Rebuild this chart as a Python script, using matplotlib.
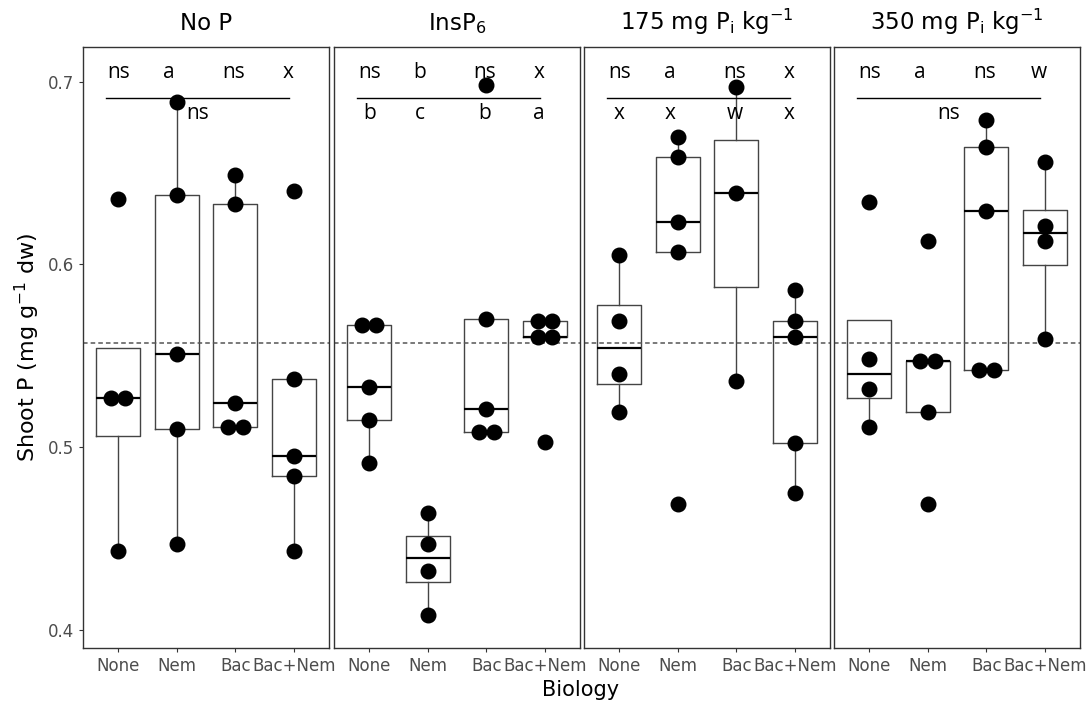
import numpy as np
import matplotlib
matplotlib.use("Agg")
import matplotlib.pyplot as plt

# categories and facet titles
biology = ["None", "Nem", "Bac", "Bac+Nem"]
panels = ["No P", "InsP$_6$", "175 mg P$_\\mathrm{i}$ kg$^{-1}$", "350 mg P$_\\mathrm{i}$ kg$^{-1}$"]

# shoot P values per biology treatment, one list per P treatment
no_p = [[0.443, 0.527, 0.527, 0.636],
        [0.447, 0.510, 0.551, 0.638, 0.689],
        [0.511, 0.511, 0.524, 0.633, 0.649],
        [0.443, 0.484, 0.495, 0.537, 0.640]]
insp6 = [[0.491, 0.515, 0.533, 0.567, 0.567],
         [0.408, 0.432, 0.447, 0.464],
         [0.508, 0.508, 0.521, 0.570, 0.698],
         [0.503, 0.560, 0.560, 0.569, 0.569]]
pi_175 = [[0.519, 0.540, 0.569, 0.605],
          [0.469, 0.607, 0.623, 0.659, 0.670],
          [0.536, 0.639, 0.697],
          [0.475, 0.502, 0.560, 0.569, 0.586]]
pi_350 = [[0.511, 0.532, 0.548, 0.634],
          [0.469, 0.519, 0.547, 0.547, 0.613],
          [0.542, 0.542, 0.629, 0.664, 0.679],
          [0.559, 0.613, 0.621, 0.656]]
all_data = [no_p, insp6, pi_175, pi_350]

# letters above and below the bracket line
top_letters = [["ns", "a", "ns", "x"],
               ["ns", "b", "ns", "x"],
               ["ns", "a", "ns", "x"],
               ["ns", "a", "ns", "w"]]
bottom_letters = [["ns"], ["b", "c", "b", "a"], ["x", "x", "w", "x"], ["ns"]]

overall_mean = 0.557

fig = plt.figure(figsize=(10.88, 7.03), dpi=100)
lefts = [83, 334, 584, 834]
lab_font = ["Open Sans", "DejaVu Sans"]
for i, lx in enumerate(lefts):
    ax = fig.add_axes([lx / 1088, 1 - 648 / 703, 246 / 1088, 601 / 703])
    data = all_data[i]
    pos = np.arange(1, 5)
    ax.boxplot(data, positions=pos, widths=0.75, showfliers=False,
               medianprops=dict(color="black", linewidth=1.6),
               boxprops=dict(color="#444444", linewidth=1.0),
               whiskerprops=dict(color="#444444", linewidth=1.0),
               capprops=dict(linewidth=0))
    # dots, duplicates side by side
    for j, vals in enumerate(data):
        uniq, counts = np.unique(vals, return_counts=True)
        for v, c in zip(uniq, counts):
            offs = (np.arange(c) - (c - 1) / 2) * 0.25
            ax.scatter(pos[j] + offs, [v] * c, s=110, color="black", zorder=3)
    ax.axhline(overall_mean, color="#555555", linestyle=(0, (3, 2)), linewidth=1.1)
    # letters
    top_x = [1.0, 1.87, 2.97, 3.9]
    for j, t in enumerate(top_letters[i]):
        ax.text(top_x[j], 0.705, t, ha="center", va="center", fontsize=15, family=lab_font)
    ax.plot([0.79, 3.92], [0.691, 0.691], color="black", linewidth=1.0)
    if len(bottom_letters[i]) == 1:
        ax.text(2.35, 0.6825, bottom_letters[i][0], ha="center", va="center", fontsize=15, family=lab_font)
    else:
        for j, t in enumerate(bottom_letters[i]):
            ax.text(top_x[j], 0.6825, t, ha="center", va="center", fontsize=15, family=lab_font)
    ax.set_xlim(0.4, 4.6)
    ax.set_ylim(0.390, 0.719)
    ax.set_xticks(pos)
    ax.set_xticklabels(biology, fontsize=12, color="#4d4d4d")
    ax.set_yticks([0.4, 0.5, 0.6, 0.7])
    ax.tick_params(colors="#333333", labelcolor="#4d4d4d", length=3)
    ax.set_title(panels[i], fontsize=16.5, pad=12)
    for s in ax.spines.values():
        s.set_color("#333333")
        s.set_linewidth(1.0)
    if i == 0:
        ax.set_yticklabels(["0.4", "0.5", "0.6", "0.7"], fontsize=12)
        ax.set_ylabel("Shoot P (mg g$^{-1}$ dw)", fontsize=16)
    else:
        ax.tick_params(axis="y", left=False, labelleft=False)

fig.text(581 / 1088, 0.004, "Biology", ha="center", va="bottom", fontsize=15)
fig.savefig("out.png", dpi=100)
